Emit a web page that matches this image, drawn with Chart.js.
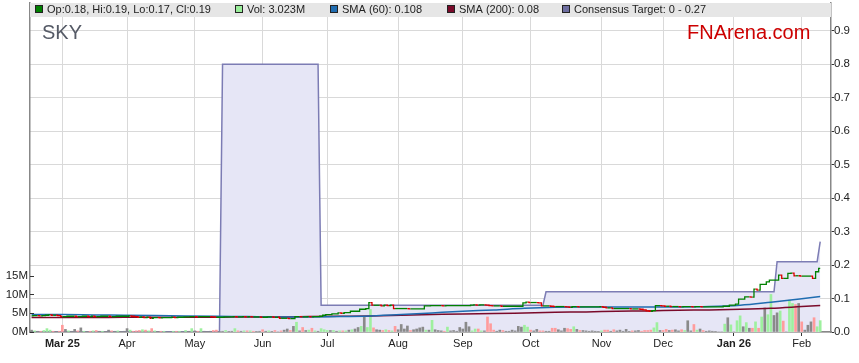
<!DOCTYPE html>
<html>
<head>
<meta charset="utf-8">
<title>SKY</title>
<script src="https://cdn.jsdelivr.net/npm/chart.js@4.4.1/dist/chart.umd.min.js"></script>
<style>
  html, body { margin: 0; padding: 0; background: #fff; }
  #wrap { width: 859px; height: 363px; }
</style>
</head>
<body>
<div id="wrap"><canvas id="chart" width="859" height="363"></canvas></div>
<script>
// one slot per weekday, first slot is Mon 17 Feb 2025
const startDate = '2025-02-17';

const monthLabels = ['Mar 25', 'Apr', 'May', 'Jun', 'Jul', 'Aug', 'Sep', 'Oct', 'Nov', 'Dec', 'Jan 26', 'Feb'];

// daily close, one row per week
const closes = [
  0.048, 0.049, 0.049, 0.048, 0.049,
  0.050, 0.051, 0.050, 0.050, 0.049,
  0.046, 0.046, 0.047, 0.047, 0.047,
  0.046, 0.046, 0.047, 0.047, 0.046,
  0.047, 0.046, 0.046, 0.047, 0.047,
  0.047, 0.046, 0.046, 0.047, 0.047,
  0.047, 0.047, 0.048, 0.047, 0.046,
  0.044, 0.045, 0.043, 0.044, 0.041,
  0.043, 0.043, 0.042, 0.043, 0.043,
  0.043, 0.044, 0.043, 0.044, 0.044,
  0.045, 0.045, 0.046, 0.046, 0.045,
  0.046, 0.046, 0.046, 0.046, 0.045,
  0.044, 0.044, 0.044, 0.045, 0.045,
  0.045, 0.046, 0.045, 0.045, 0.046,
  0.045, 0.046, 0.045, 0.045, 0.045,
  0.044, 0.044, 0.045, 0.045, 0.044,
  0.044, 0.041, 0.041, 0.041, 0.040,
  0.040, 0.046, 0.046, 0.045, 0.045,
  0.046, 0.045, 0.046, 0.046, 0.047,
  0.050, 0.052, 0.052, 0.054, 0.054,
  0.057, 0.056, 0.058, 0.058, 0.062,
  0.062, 0.062, 0.068, 0.068, 0.070,
  0.088, 0.080, 0.080, 0.080, 0.078,
  0.080, 0.079, 0.080, 0.070, 0.070,
  0.070, 0.070, 0.070, 0.069, 0.069,
  0.069, 0.069, 0.069, 0.078, 0.078,
  0.079, 0.079, 0.079, 0.079, 0.078,
  0.079, 0.079, 0.079, 0.079, 0.079,
  0.079, 0.079, 0.079, 0.080, 0.081,
  0.080, 0.081, 0.081, 0.080, 0.079,
  0.078, 0.078, 0.078, 0.077, 0.077,
  0.077, 0.077, 0.077, 0.077, 0.077,
  0.087, 0.089, 0.088, 0.088, 0.088,
  0.087, 0.078, 0.078, 0.078, 0.077,
  0.076, 0.076, 0.076, 0.076, 0.075,
  0.074, 0.076, 0.076, 0.075, 0.075,
  0.075, 0.075, 0.075, 0.075, 0.075,
  0.076, 0.074, 0.072, 0.072, 0.070,
  0.070, 0.070, 0.070, 0.070, 0.070,
  0.069, 0.069, 0.069, 0.068, 0.066,
  0.063, 0.062, 0.064, 0.079, 0.079,
  0.078, 0.077, 0.077, 0.076, 0.076,
  0.076, 0.075, 0.076, 0.076, 0.076,
  0.075, 0.076, 0.076, 0.075, 0.075,
  0.075, 0.075, 0.075, 0.075, 0.075,
  0.077, 0.077, 0.080, 0.080, 0.083,
  0.098, 0.098, 0.105, 0.105, 0.104,
  0.128, 0.125, 0.142, 0.142, 0.150,
  0.155, 0.155, 0.155, 0.170, 0.160,
  0.160, 0.175, 0.176, 0.168, 0.168,
  0.167, 0.167, 0.167, 0.167, 0.160,
  0.180, 0.190
];

// daily volume in millions, same slots as closes
const volumes = [
  0.5, 0.3, 0.2, 0.2, 0.4,
  0.9, 0.5, 0.2, 0.1, 0.2,
  1.8, 0.7, 0.3, 0.2, 0.7,
  0.3, 1.1, 0.2, 0.1, 0.2,
  0.3, 0.4, 0.2, 0.2, 0.1,
  0.5, 0.3, 0.2, 0.3, 0.1,
  0.2, 0.9, 0.5, 0.2, 0.3,
  0.4, 0.6, 0.5, 0.3, 0.9,
  0.3, 0.1, 0.2, 0.2, 0,
  0, 0.2, 0.2, 0.2, 0,
  0.4, 0.2, 0.9, 0.3, 0.2,
  0.9, 0.2, 0.1, 0.2, 0.4,
  0.5, 0.1, 0.2, 0.4, 0.1,
  0.2, 0.9, 0.3, 0.2, 0.3,
  0.3, 0.3, 0.2, 0.1, 0.2,
  0.6, 0.2, 0.3, 0.1, 0.4,
  0, 0.3, 0.5, 0.8, 0.4,
  1.5, 2.6, 0.3, 1.2, 0.4,
  0.5, 1.0, 0.3, 0.2, 0.9,
  0.6, 0.4, 0.4, 0.4, 0.2,
  0.3, 0.3, 0.3, 0.5, 0.6,
  0.8, 1.2, 1.5, 4.0, 1.2,
  6.0, 1.1, 0.6, 0.5, 0.4,
  0.6, 0.4, 0.3, 1.5, 0.6,
  2.0, 0.8, 1.6, 0.4, 0.6,
  0.8, 1.1, 1.3, 0.5, 0.5,
  3.1, 0.6, 0.4, 0.3, 0.2,
  1.3, 0.3, 0.4, 0.2, 1.2,
  0.8, 2.6, 1.4, 0.3, 0.8,
  0.8, 0.3, 0.3, 4.0, 2.2,
  0.5, 0.2, 0.5, 0.4, 0.2,
  0.2, 0.5, 0.3, 1.5, 1.3,
  1.8, 1.3, 0.5, 0.3, 0.7,
  0.3, 0.3, 0.2, 0.2, 1.0,
  1.0, 0.6, 0.3, 1.0, 0.9,
  0.7, 1.4, 0.7, 0.4, 0.4,
  0.3, 0.2, 0.3, 0.2, 0.1,
  0.3, 0.5, 0.5, 0.2, 0.6,
  0.3, 0.5, 0.2, 0.7, 0.1,
  0.3, 0.3, 0.4, 0.2, 0.4,
  0.4, 0.5, 1.1, 2.5, 0.4,
  0.4, 0.7, 0.4, 0.5, 0.6,
  0.3, 0.6, 0.4, 3.0, 0.3,
  2.0, 0.5, 0.8, 0.4, 0.2,
  0.3, 0.2, 0.1, 0, 0,
  2.1, 3.8, 1.9, 0, 3.0,
  4.3, 1.4, 2.5, 1.0, 1.0,
  2.7, 1.0, 4.0, 6.4, 4.6,
  10.0, 4.4, 5.1, 5.6, 2.9,
  0, 8.5, 7.6, 7.3, 7.6,
  2.7, 0.5, 1.8, 2.7, 3.8,
  1.4, 3.023
];

// moving averages read every 10 slots
const smaDays = [0, 10, 20, 30, 40, 50, 60, 70, 80, 90, 100, 110, 120, 130, 140, 150, 160, 170, 180, 190, 200, 210, 220, 230, 240, 250, 256];
const sma60 = [0.052, 0.052, 0.051, 0.050, 0.049, 0.048, 0.047, 0.046, 0.045, 0.045, 0.046, 0.048, 0.052, 0.057, 0.062, 0.066, 0.071, 0.074, 0.075, 0.075, 0.075, 0.075, 0.076, 0.080, 0.089, 0.099, 0.106];
const sma200 = [0.043, 0.043, 0.043, 0.044, 0.044, 0.044, 0.044, 0.045, 0.045, 0.046, 0.047, 0.048, 0.050, 0.052, 0.054, 0.055, 0.057, 0.059, 0.060, 0.062, 0.063, 0.065, 0.066, 0.068, 0.071, 0.076, 0.079];

// consensus target changes
const consensusDays = [0, 61, 62, 93, 94, 166, 167, 241, 242, 255, 256];
const consensusValues = [0, 0, 0.8, 0.8, 0.08, 0.08, 0.12, 0.12, 0.21, 0.21, 0.27];

const priceTicks = [0, 0.1, 0.2, 0.3, 0.4, 0.5, 0.6, 0.7, 0.8, 0.9];
const volumeTicks = [0, 5, 10, 15];

const legendTexts = ['Op:0.18, Hi:0.19, Lo:0.17, Cl:0.19', 'Vol: 3.023M', 'SMA (60): 0.108', 'SMA (200): 0.08', 'Consensus Target: 0 - 0.27'];
const legendColors = ['#008000', '#99ee99', '#1f6cb0', '#7a0a2a', '#6e6ea0'];
const legendX = [35, 235, 330, 447, 562];

const FONT = '"Liberation Sans", Arial, sans-serif';
const UP = '#9ef09e', DOWN = '#ff9c9c', FLAT = '#8a8a8a';

function weekdayDates(start, n) {
    const out = [];
    const d = new Date(start + 'T00:00:00Z');
    while (out.length < n) {
        const wd = d.getUTCDay();
        if (wd !== 0 && wd !== 6) out.push(new Date(d));
        d.setUTCDate(d.getUTCDate() + 1);
    }
    return out;
}

const dates = weekdayDates(startDate, closes.length);
const monthStarts = [];
dates.forEach((d, i) => {
    if (i > 0 && d.getUTCMonth() !== dates[i - 1].getUTCMonth()) monthStarts.push(i);
});

const volColors = closes.map((c, i) => {
    const prev = i ? closes[i - 1] : c;
    return c > prev ? UP : c < prev ? DOWN : FLAT;
});

// fixed axis sizes, no extra label padding around the plot
function fixSize(prop, size) {
    return s => {
        s[prop] = size;
        s.paddingTop = 0;
        s.paddingBottom = 0;
        s.paddingLeft = 0;
        s.paddingRight = 0;
    };
}

const overlay = {
    id: 'overlay',
    beforeDatasetsDraw(chart) {
        const { ctx, chartArea: a } = chart;
        ctx.save();
        // legend strip
        ctx.fillStyle = '#e6e6e6';
        ctx.fillRect(a.left, a.top, a.right - a.left, 14);
        ctx.font = '11px ' + FONT;
        ctx.textBaseline = 'middle';
        legendTexts.forEach((t, k) => {
            const x = legendX[k];
            ctx.fillStyle = legendColors[k];
            ctx.fillRect(x + 0.5, 5.5, 7, 7);
            ctx.strokeStyle = '#222';
            ctx.lineWidth = 1;
            ctx.strokeRect(x + 0.5, 5.5, 7, 7);
            ctx.fillStyle = '#222';
            ctx.fillText(t, x + 12, 10);
        });
        // titles
        ctx.textBaseline = 'alphabetic';
        ctx.font = '20px ' + FONT;
        ctx.fillStyle = '#555a66';
        ctx.fillText('SKY', 42, 39);
        ctx.fillStyle = '#cc0000';
        ctx.fillText('FNArena.com', 687, 39);
        ctx.restore();
    },
    afterDraw(chart) {
        // volume ticks point into the plot
        const { ctx, chartArea: a } = chart;
        const s = chart.scales.yVol;
        ctx.save();
        ctx.strokeStyle = '#333';
        ctx.lineWidth = 1;
        volumeTicks.forEach(v => {
            const y = Math.round(s.getPixelForValue(v)) + 0.5;
            ctx.beginPath();
            ctx.moveTo(a.left, y);
            ctx.lineTo(a.left + 4, y);
            ctx.stroke();
        });
        ctx.restore();
    }
};

Chart.defaults.font.family = FONT;

new Chart(document.getElementById('chart'), {
    type: 'line',
    data: {
        datasets: [
            {
                label: 'Close',
                data: closes.map((c, i) => ({ x: i, y: c })),
                yAxisID: 'yPrice',
                borderColor: '#008000',
                borderWidth: 1.3,
                stepped: 'middle',
                pointRadius: 0,
                segment: {
                    borderColor: c => c.p1.parsed.y < c.p0.parsed.y ? '#dd0000' : '#008000'
                },
                order: 1
            },
            {
                label: 'SMA (60)',
                data: smaDays.map((d, k) => ({ x: d, y: sma60[k] })),
                yAxisID: 'yPrice',
                borderColor: '#1f6cb0',
                borderWidth: 1.5,
                cubicInterpolationMode: 'monotone',
                pointRadius: 0,
                order: 2
            },
            {
                label: 'SMA (200)',
                data: smaDays.map((d, k) => ({ x: d, y: sma200[k] })),
                yAxisID: 'yPrice',
                borderColor: '#7a0a2a',
                borderWidth: 1.5,
                cubicInterpolationMode: 'monotone',
                pointRadius: 0,
                order: 3
            },
            {
                type: 'bar',
                label: 'Vol',
                data: volumes.map((v, i) => ({ x: i, y: v })),
                yAxisID: 'yVol',
                backgroundColor: volColors,
                barThickness: 2,
                order: 5
            },
            {
                label: 'Consensus Target',
                data: consensusDays.map((d, k) => ({ x: d, y: consensusValues[k] })),
                yAxisID: 'yPrice',
                borderColor: '#7c7cb4',
                backgroundColor: '#e6e6f6',
                borderWidth: 1.5,
                fill: 'origin',
                pointRadius: 0,
                tension: 0,
                order: 10
            }
        ]
    },
    options: {
        responsive: false,
        animation: false,
        events: [],
        layout: { padding: { top: 3, bottom: 4, left: 0, right: 0 } },
        plugins: {
            legend: { display: false },
            tooltip: { enabled: false }
        },
        scales: {
            x: {
                type: 'linear',
                min: -0.5,
                max: 259.5,
                offset: false,
                afterBuildTicks: s => { s.ticks = monthStarts.map(v => ({ value: v })); },
                afterFit: fixSize('height', 27),
                ticks: {
                    autoSkip: false,
                    maxRotation: 0,
                    padding: 1,
                    color: '#222',
                    callback: (v, i) => monthLabels[i],
                    font: c => ({ family: FONT, size: 11, weight: /\d/.test(monthLabels[c.index] || '') ? 'bold' : 'normal' })
                },
                grid: { color: '#d9d9d9', tickColor: '#333', tickLength: 4, offset: false },
                border: { color: '#888', width: 1.5 }
            },
            yVol: {
                type: 'linear',
                position: 'left',
                min: 0,
                max: 87.6,
                afterBuildTicks: s => { s.ticks = volumeTicks.map(v => ({ value: v })); },
                afterFit: fixSize('width', 30),
                ticks: { padding: 2, color: '#222', font: { size: 11.5 }, callback: v => v + 'M' },
                grid: { drawOnChartArea: false, drawTicks: false },
                border: { color: '#888', width: 1.5 }
            },
            yPrice: {
                type: 'linear',
                position: 'right',
                min: 0,
                max: 0.983,
                afterBuildTicks: s => { s.ticks = priceTicks.map(v => ({ value: v })); },
                afterFit: fixSize('width', 28),
                ticks: { padding: 0, color: '#222', font: { size: 11.5 }, callback: v => v.toFixed(1) },
                grid: { color: '#d9d9d9', tickColor: '#333', tickLength: 3 },
                border: { color: '#888', width: 1.5 }
            }
        }
    },
    plugins: [overlay]
});
</script>
</body>
</html>
